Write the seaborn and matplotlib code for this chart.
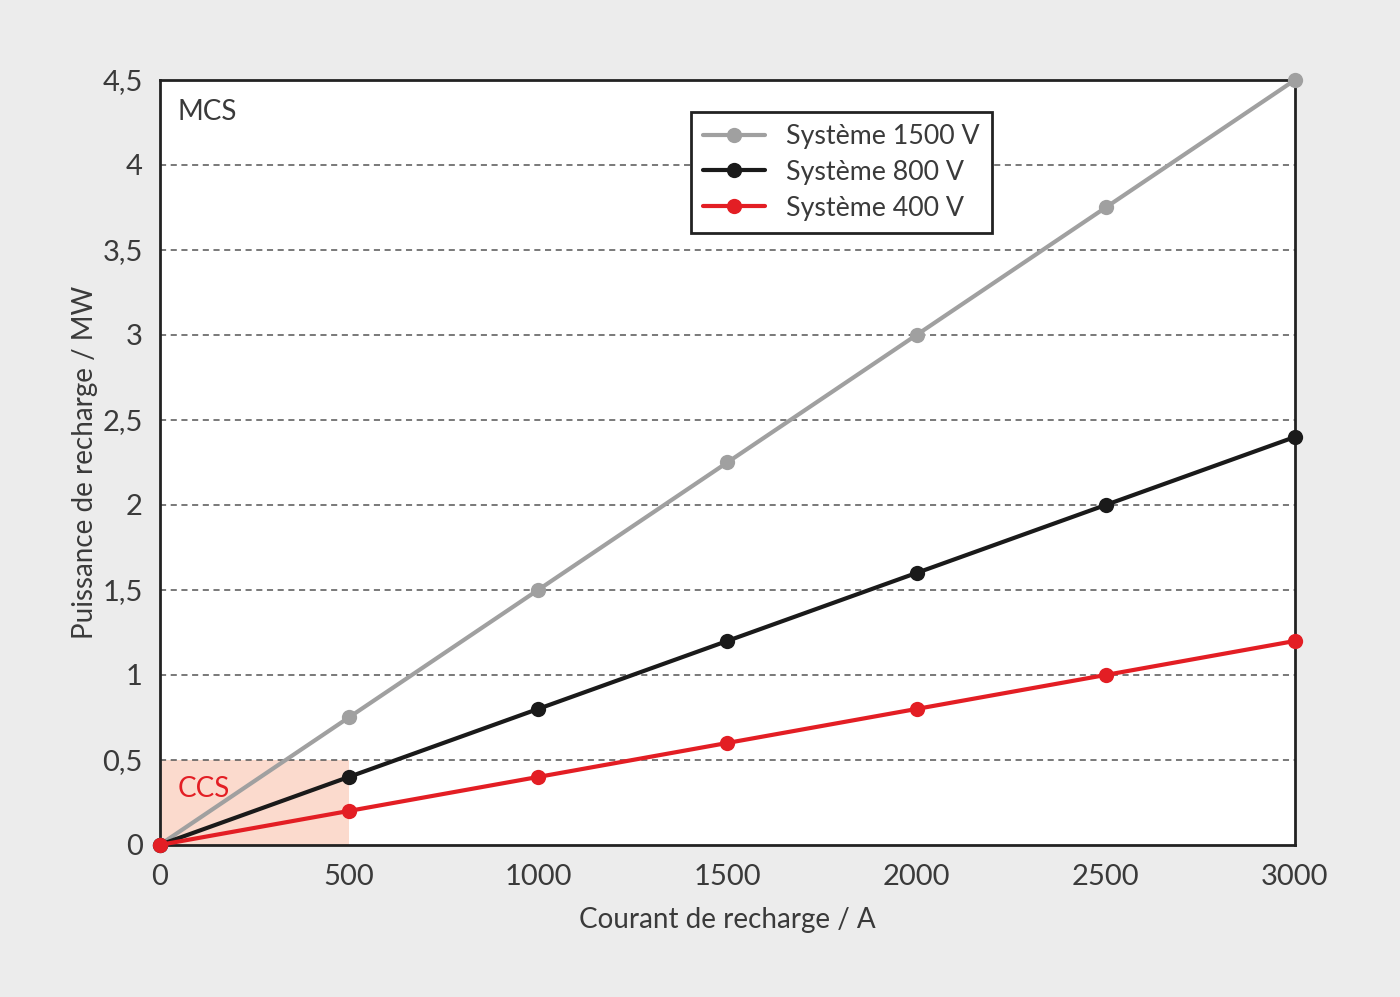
import numpy as np
import pandas as pd
import matplotlib
matplotlib.use('Agg')
import matplotlib.pyplot as plt
import seaborn as sns

sns.set_style('white')
plt.rcParams['font.family'] = ['Lato', 'DejaVu Sans']

# data
courant = [0, 500, 1000, 1500, 2000, 2500, 3000]
p_1500 = [0, 0.75, 1.5, 2.25, 3.0, 3.75, 4.5]
p_800 = [0, 0.4, 0.8, 1.2, 1.6, 2.0, 2.4]
p_400 = [0, 0.2, 0.4, 0.6, 0.8, 1.0, 1.2]
series = ['Système 1500 V', 'Système 800 V', 'Système 400 V']
y_ticks = [0, 0.5, 1, 1.5, 2, 2.5, 3, 3.5, 4, 4.5]
y_labels = ['0', '0,5', '1', '1,5', '2', '2,5', '3', '3,5', '4', '4,5']
x_ticks = [0, 500, 1000, 1500, 2000, 2500, 3000]

df = pd.DataFrame({
    'courant': courant * 3,
    'puissance': p_1500 + p_800 + p_400,
    'systeme': [series[0]] * 7 + [series[1]] * 7 + [series[2]] * 7,
})
palette = {series[0]: '#a0a0a0', series[1]: '#1a1a1a', series[2]: '#e31e24'}
txt = '#3a3a3a'

fig = plt.figure(figsize=(14, 9.97), dpi=100, facecolor='#ececec')
ax = fig.add_axes([0.114, 0.1525, 0.811, 0.7673])
ax.set_facecolor('white')

# CCS zone
ax.axvspan(0, 500, ymin=0, ymax=0.5 / 4.5, color='#fbdacd', lw=0, zorder=0)

for y in y_ticks[1:-1]:
    ax.axhline(y, color='#555555', ls=(0, (4, 3)), lw=1.1, zorder=1)

sns.lineplot(data=df, x='courant', y='puissance', hue='systeme', palette=palette,
             marker='o', markersize=11, markeredgewidth=0, linewidth=3,
             hue_order=series, ax=ax, zorder=3)
for ln in ax.lines:
    ln.set_clip_on(False)

ax.set_xlim(0, 3000)
ax.set_ylim(0, 4.5)
ax.set_xticks(x_ticks)
ax.set_yticks(y_ticks)
ax.set_yticklabels(y_labels)
ax.tick_params(axis='x', length=0, labelsize=21, labelcolor=txt, pad=14)
ax.tick_params(axis='y', length=0, labelsize=21, labelcolor=txt, pad=12)
for s in ax.spines.values():
    s.set_color('#222222')
    s.set_linewidth(2)

ax.set_xlabel('Courant de recharge / A', fontsize=20, color=txt, labelpad=12)
ax.set_ylabel('Puissance de recharge / MW', fontsize=20, color=txt, labelpad=3)

ax.text(0.016, 0.975, 'MCS', transform=ax.transAxes, fontsize=20, color=txt,
        va='top', ha='left')
ax.text(0.016, 0.09, 'CCS', transform=ax.transAxes, fontsize=20, color='#e31e24',
        va='top', ha='left')

leg = ax.legend(loc='upper left', bbox_to_anchor=(0.468, 0.958), fontsize=19.3,
                frameon=True, fancybox=False, edgecolor='#222222', framealpha=1,
                handlelength=2.3, borderpad=0.45, labelspacing=0.4, title=None,
                borderaxespad=0, handletextpad=0.8)
leg.get_frame().set_linewidth(2)
for t in leg.get_texts():
    t.set_color(txt)

fig.savefig('out.png', dpi=100, facecolor=fig.get_facecolor())
